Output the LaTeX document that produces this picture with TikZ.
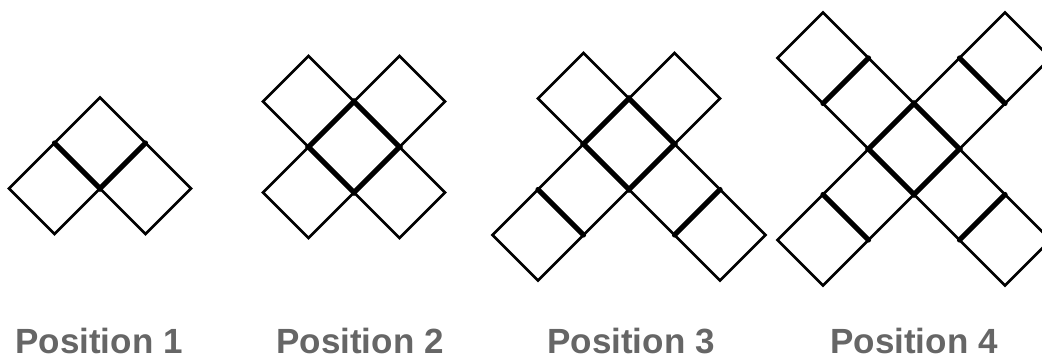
\documentclass[tikz,border=0pt]{standalone}
\usepackage{fontspec}
\setmainfont{Liberation Sans}
\definecolor{lblgray}{HTML}{666666}
\tikzset{
  thinline/.style={line width=2.7pt, draw=black},
  thickline/.style={line width=5.2pt, draw=black, line cap=round},
  lbl/.style={font=\fontsize{35}{38}\selectfont\bfseries, text=lblgray, anchor=base, inner sep=0pt},
  dia/.pic={\draw[thinline] (0,-45.5)--(45.5,0)--(0,45.5)--(-45.5,0)--cycle;}
}
\newcommand{\dd}{45.5}
\begin{document}
\begin{tikzpicture}[x=1pt,y=-1pt]
\useasboundingbox (0,0) rectangle (1042,358);
\clip (0,0) rectangle (1042,358);
% Position 1
\begin{scope}[shift={(100,143)}]
  \foreach \a/\b in {0/0,-1/1,1/1} \pic at (\a*\dd,\b*\dd) {dia};
  \draw[thickline] (-\dd,0)--(0,\dd)--(\dd,0);
\end{scope}
% Position 2
\begin{scope}[shift={(354,147)}]
  \foreach \a/\b in {0/0,-1/-1,1/-1,-1/1,1/1} \pic at (\a*\dd,\b*\dd) {dia};
  \draw[thickline] (-\dd,0)--(0,\dd)--(\dd,0)--(0,-\dd)--cycle;
\end{scope}
% Position 3
\begin{scope}[shift={(629,144)}]
  \foreach \a/\b in {0/0,-1/-1,1/-1,-1/1,1/1,-2/2,2/2} \pic at (\a*\dd,\b*\dd) {dia};
  \draw[thickline] (-\dd,0)--(0,\dd)--(\dd,0)--(0,-\dd)--cycle;
  \draw[thickline] (-2*\dd,\dd)--(-\dd,2*\dd);
  \draw[thickline] (2*\dd,\dd)--(\dd,2*\dd);
\end{scope}
% Position 4
\begin{scope}[shift={(914,149)}]
  \foreach \a/\b in {0/0,-1/-1,1/-1,-1/1,1/1,-2/2,2/2,-2/-2,2/-2} \pic at (\a*\dd,\b*\dd) {dia};
  \draw[thickline] (-\dd,0)--(0,\dd)--(\dd,0)--(0,-\dd)--cycle;
  \draw[thickline] (-2*\dd,\dd)--(-\dd,2*\dd);
  \draw[thickline] (2*\dd,\dd)--(\dd,2*\dd);
  \draw[thickline] (-2*\dd,-\dd)--(-\dd,-2*\dd);
  \draw[thickline] (2*\dd,-\dd)--(\dd,-2*\dd);
\end{scope}
% Labels
\node[lbl] (p1) at (99,353) {Position 1};
\node[lbl] (p2) at (360,353) {Position 2};
\node[lbl] (p3) at (631,353) {Position 3};
\node[lbl] (p4) at (914,353) {Position 4};
\end{tikzpicture}
\end{document}
